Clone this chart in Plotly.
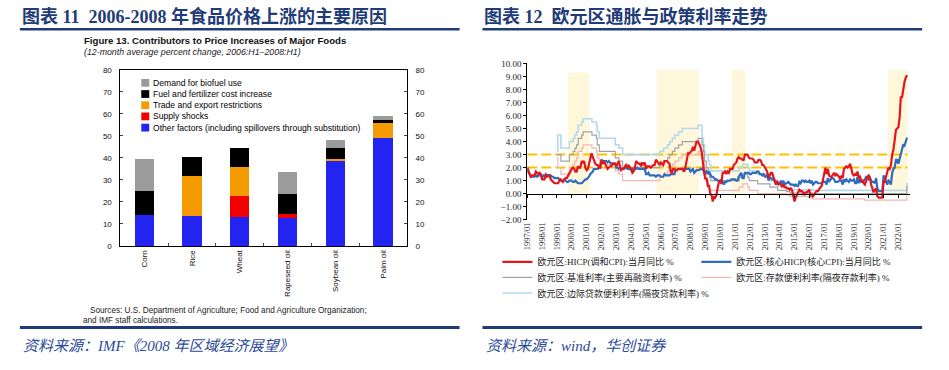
import plotly.graph_objects as go
import pandas as pd

W, H = 949, 370

# ---------------- Left chart data (Figure 13, IMF) ----------------
foods = ["Corn", "Rice", "Wheat", "Rapeseed oil", "Soybean oil", "Palm oil"]
other_factors = [14.2, 13.8, 13.3, 12.7, 38.7, 49.2]
supply_shocks = [0, 0, 9.4, 2.0, 0, 0]
trade_restrictions = [0, 18.2, 13.3, 0, 1.0, 6.9]
fuel_fertilizer = [10.7, 8.3, 8.6, 8.7, 4.9, 1.1]
biofuel_demand = [14.5, 0, 0, 10.4, 3.5, 1.8]
factor_names = [
    "Other factors (including spillovers through substitution)",
    "Supply shocks",
    "Trade and export restrictions",
    "Fuel and fertilizer cost increase",
    "Demand for biofuel use",
]
left_ticks = [0, 10, 20, 30, 40, 50, 60, 70, 80]

# ---------------- Right chart data (euro area, monthly) ----------------
hicp = [
    2.0, 1.7, 1.6, 1.3, 1.4, 1.4, 1.4, 1.7, 1.6, 1.5, 1.6, 1.5,        # 1997
    1.1, 1.1, 1.1, 1.4, 1.3, 1.4, 1.4, 1.1, 1.0, 0.9, 0.8, 0.8,        # 1998
    0.8, 0.8, 1.0, 1.1, 1.0, 0.9, 1.1, 1.2, 1.2, 1.4, 1.5, 1.7,        # 1999
    1.9, 2.0, 1.9, 1.7, 1.7, 2.1, 2.0, 2.0, 2.5, 2.4, 2.5, 2.0,        # 2000
    1.8, 1.9, 2.2, 2.7, 3.1, 2.8, 2.5, 2.3, 2.2, 2.2, 2.0, 2.0,        # 2001
    2.6, 2.3, 2.5, 2.3, 2.0, 1.9, 2.0, 2.1, 2.1, 2.3, 2.3, 2.3,        # 2002
    2.1, 2.4, 2.5, 2.1, 1.8, 1.9, 1.9, 2.1, 2.2, 2.0, 2.2, 2.0,        # 2003
    1.9, 1.6, 1.7, 2.0, 2.5, 2.4, 2.3, 2.3, 2.1, 2.4, 2.2, 2.4,        # 2004
    1.9, 2.1, 2.1, 2.1, 2.0, 2.1, 2.2, 2.2, 2.6, 2.5, 2.3, 2.2,        # 2005
    2.4, 2.3, 2.2, 2.5, 2.5, 2.5, 2.4, 2.3, 1.7, 1.6, 1.9, 1.9,        # 2006
    1.8, 1.8, 1.9, 1.9, 1.9, 1.9, 1.8, 1.7, 2.1, 2.6, 3.1, 3.1,        # 2007
    3.2, 3.3, 3.6, 3.3, 3.7, 4.0, 4.0, 3.8, 3.6, 3.2, 2.1, 1.6,        # 2008
    1.1, 1.2, 0.6, 0.6, 0.0, -0.1, -0.6, -0.2, -0.3, -0.1, 0.5, 0.9,   # 2009
    1.0, 0.8, 1.6, 1.6, 1.7, 1.5, 1.7, 1.6, 1.9, 1.9, 1.9, 2.2,        # 2010
    2.3, 2.4, 2.7, 2.8, 2.7, 2.7, 2.6, 2.6, 3.0, 3.0, 3.0, 2.8,        # 2011
    2.7, 2.7, 2.7, 2.6, 2.4, 2.4, 2.4, 2.6, 2.6, 2.5, 2.2, 2.2,        # 2012
    2.0, 1.8, 1.7, 1.2, 1.4, 1.6, 1.6, 1.3, 1.1, 0.7, 0.9, 0.8,        # 2013
    0.8, 0.7, 0.5, 0.7, 0.5, 0.5, 0.4, 0.4, 0.3, 0.4, 0.3, -0.2,       # 2014
    -0.6, -0.3, -0.1, 0.0, 0.3, 0.2, 0.2, 0.1, -0.1, 0.1, 0.1, 0.2,    # 2015
    0.3, -0.2, 0.0, -0.2, -0.1, 0.1, 0.2, 0.2, 0.4, 0.5, 0.6, 1.1,     # 2016
    1.7, 2.0, 1.5, 1.9, 1.4, 1.3, 1.3, 1.5, 1.6, 1.4, 1.5, 1.4,        # 2017
    1.3, 1.1, 1.4, 1.2, 1.9, 2.0, 2.1, 2.0, 2.1, 2.3, 1.9, 1.5,        # 2018
    1.4, 1.5, 1.4, 1.7, 1.2, 1.3, 1.0, 1.0, 0.8, 0.7, 1.0, 1.3,        # 2019
    1.4, 1.2, 0.7, 0.3, 0.1, 0.3, 0.4, -0.2, -0.3, -0.3, -0.3, -0.3,   # 2020
    0.9, 0.9, 1.3, 1.6, 2.0, 1.9, 2.2, 3.0, 3.4, 4.1, 4.9, 5.0,        # 2021
    5.1, 5.9, 7.4, 7.4, 8.1, 8.6, 8.9, 9.1,                            # 2022
]
core_hicp = [
    1.8, 1.6, 1.5, 1.3, 1.3, 1.3, 1.3, 1.4, 1.3, 1.4, 1.4, 1.4,        # 1997
    1.3, 1.4, 1.3, 1.5, 1.4, 1.4, 1.4, 1.4, 1.3, 1.3, 1.2, 1.2,        # 1998
    1.2, 1.2, 1.1, 1.0, 1.0, 1.0, 1.1, 1.0, 0.9, 0.9, 1.0, 1.0,        # 1999
    1.0, 0.9, 0.9, 1.0, 0.9, 0.8, 0.8, 0.8, 0.8, 0.9, 1.0, 1.1,        # 2000
    1.1, 1.2, 1.3, 1.5, 1.6, 1.7, 1.9, 1.9, 1.9, 1.9, 2.0, 2.0,        # 2001
    2.6, 2.5, 2.5, 2.5, 2.5, 2.4, 2.5, 2.4, 2.3, 2.3, 2.3, 2.3,        # 2002
    2.0, 2.0, 1.9, 2.0, 1.9, 1.9, 1.9, 2.0, 2.0, 1.9, 1.9, 1.9,        # 2003
    1.8, 1.9, 1.8, 1.9, 1.9, 2.0, 1.9, 1.9, 1.9, 1.9, 1.9, 1.9,        # 2004
    1.5, 1.5, 1.6, 1.4, 1.4, 1.4, 1.4, 1.4, 1.3, 1.4, 1.4, 1.4,        # 2005
    1.3, 1.3, 1.3, 1.5, 1.4, 1.4, 1.4, 1.4, 1.5, 1.5, 1.5, 1.5,        # 2006
    1.8, 1.8, 1.9, 1.9, 1.9, 1.9, 1.9, 1.9, 1.9, 1.9, 1.9, 1.9,        # 2007
    1.7, 1.8, 1.9, 1.6, 1.7, 1.8, 1.8, 1.8, 1.9, 1.9, 1.8, 1.8,        # 2008
    1.6, 1.7, 1.5, 1.7, 1.5, 1.3, 1.3, 1.2, 1.1, 1.1, 1.0, 1.0,        # 2009
    0.9, 0.8, 0.9, 0.7, 0.9, 0.9, 1.0, 1.0, 1.0, 1.1, 1.1, 1.1,        # 2010
    1.1, 1.0, 1.0, 1.3, 1.5, 1.6, 1.2, 1.2, 1.6, 1.6, 1.6, 1.6,        # 2011
    1.5, 1.5, 1.6, 1.6, 1.6, 1.6, 1.7, 1.7, 1.5, 1.5, 1.4, 1.5,        # 2012
    1.3, 1.3, 1.5, 1.0, 1.2, 1.2, 1.1, 1.1, 1.0, 0.8, 0.9, 0.7,        # 2013
    0.8, 1.0, 0.7, 1.0, 0.7, 0.8, 0.8, 0.9, 0.8, 0.7, 0.7, 0.7,        # 2014
    0.6, 0.7, 0.6, 0.6, 0.9, 0.8, 1.0, 1.0, 0.9, 1.0, 0.9, 0.9,        # 2015
    1.0, 0.8, 1.0, 0.7, 0.8, 0.9, 0.9, 0.8, 0.8, 0.8, 0.8, 0.9,        # 2016
    0.9, 0.9, 0.7, 1.2, 0.9, 1.1, 1.2, 1.2, 1.1, 0.9, 0.9, 0.9,        # 2017
    1.0, 1.0, 1.0, 0.7, 1.1, 0.9, 1.1, 1.0, 0.9, 1.1, 1.0, 1.0,        # 2018
    1.1, 0.8, 0.8, 1.3, 0.8, 1.1, 0.9, 0.9, 1.0, 1.1, 1.3, 1.3,        # 2019
    1.1, 1.2, 1.0, 0.9, 0.9, 0.8, 1.2, 0.4, 0.2, 0.2, 0.2, 0.2,        # 2020
    1.4, 1.1, 0.9, 0.7, 1.0, 0.9, 0.7, 1.6, 1.9, 2.0, 2.6, 2.6,        # 2021
    2.3, 2.7, 2.9, 3.5, 3.8, 3.7, 4.0, 4.3,                            # 2022
]
months = pd.date_range("1997-01-01", periods=len(hicp), freq="MS")

rate_dates = [
    "1999-01-01", "1999-01-22", "1999-04-09", "1999-11-05", "2000-02-04", "2000-03-17",
    "2000-04-28", "2000-06-09", "2000-09-01", "2000-10-06", "2001-05-11", "2001-08-31",
    "2001-09-18", "2001-11-09", "2002-12-06", "2003-03-07", "2003-06-06", "2005-12-06",
    "2006-03-08", "2006-06-15", "2006-08-09", "2006-10-11", "2006-12-13", "2007-03-14",
    "2007-06-13", "2008-07-09", "2008-10-08", "2008-10-15", "2008-11-12", "2008-12-10",
    "2009-01-21", "2009-03-11", "2009-04-08", "2009-05-13", "2011-04-13", "2011-07-13",
    "2011-11-09", "2011-12-14", "2012-07-11", "2013-05-08", "2013-11-13", "2014-06-11",
    "2014-09-10", "2015-12-09", "2016-03-16", "2019-09-18", "2022-07-27", "2022-08-31",
]
main_refi_rate = [
    3.0, 3.0, 2.5, 3.0, 3.25, 3.5, 3.75, 4.25, 4.5, 4.75, 4.5, 4.25,
    3.75, 3.25, 2.75, 2.5, 2.0, 2.25, 2.5, 2.75, 3.0, 3.25, 3.5, 3.75,
    4.0, 4.25, 3.75, 3.75, 3.25, 2.5, 2.0, 1.5, 1.25, 1.0, 1.25, 1.5,
    1.25, 1.0, 0.75, 0.5, 0.25, 0.15, 0.05, 0.05, 0.0, 0.0, 0.5, 0.5,
]
deposit_rate = [
    2.75, 2.0, 1.5, 2.0, 2.25, 2.5, 2.75, 3.25, 3.5, 3.75, 3.5, 3.25,
    2.75, 2.25, 1.75, 1.5, 1.0, 1.25, 1.5, 1.75, 2.0, 2.25, 2.5, 2.75,
    3.0, 3.25, 2.75, 3.25, 2.75, 2.0, 1.0, 0.5, 0.25, 0.25, 0.5, 0.75,
    0.5, 0.25, 0.0, 0.0, 0.0, -0.1, -0.2, -0.3, -0.4, -0.5, 0.0, 0.0,
]
marginal_lending_rate = [
    3.25, 4.5, 3.5, 4.0, 4.25, 4.5, 4.75, 5.25, 5.5, 5.75, 5.5, 5.25,
    4.75, 4.25, 3.75, 3.5, 3.0, 3.25, 3.5, 3.75, 4.0, 4.25, 4.5, 4.75,
    5.0, 5.25, 4.75, 4.25, 3.75, 3.0, 3.0, 2.5, 2.25, 1.75, 2.0, 2.25,
    2.0, 1.75, 1.5, 1.0, 0.75, 0.4, 0.3, 0.3, 0.25, 0.25, 0.75, 0.75,
]
series_names = [
    "欧元区:HICP(调和CPI):当月同比 %",
    "欧元区:核心HICP(核心CPI):当月同比 %",
    "欧元区:基准利率(主要再融资利率) %",
    "欧元区:存款便利利率(隔夜存款利率) %",
    "欧元区:边际贷款便利利率(隔夜贷款利率) %",
]
shade_starts = ["1999-10-01", "2005-09-20", "2010-10-15", "2021-04-20"]
shade_ends = ["2001-03-10", "2008-07-25", "2011-09-12", "2022-08-15"]
shade_tops = [9.3, 9.5, 9.5, 9.5]
reference_levels = [3.0, 2.0]
right_x_range = ["1997-01-01", "2022-10-18"]
right_y_range = [-2, 10]

# ---------------- helpers ----------------
def px(x):
    return x / W

def py(y):
    return 1 - y / H

SANS = "Liberation Sans, Arial, sans-serif"
SERIF_CJK = "Liberation Serif, Noto Sans CJK SC, serif"
NAVY = "#1F3C78"

fig = go.Figure()

# ---- left: stacked bars ----
bar_series = [other_factors, supply_shocks, trade_restrictions, fuel_fertilizer, biofuel_demand]
bar_colors = ["#2424F2", "#F20000", "#F59B00", "#000000", "#9B9B9B"]
for name, vals, col in zip(factor_names, bar_series, bar_colors):
    fig.add_trace(go.Bar(
        x=foods, y=vals, name=name, width=0.4,
        marker=dict(color=col, line=dict(width=0)),
        xaxis="x", yaxis="y", showlegend=False,
    ))
totals = [sum(v) for v in zip(*bar_series)]
fig.add_trace(go.Scatter(x=foods, y=totals, xaxis="x", yaxis="y2", mode="markers",
                         marker=dict(opacity=0), showlegend=False, hoverinfo="skip"))

# ---- right: lines (one small legend per entry, laid out in two columns) ----
# legend slots: (legend id, text left x px, row centre y px)
legend_slots = {
    0: ("legend2", 535, 264), 1: ("legend3", 735, 264),
    2: ("legend4", 535, 280), 3: ("legend5", 735, 280),
    4: ("legend6", 535, 296),
}
right_styles = [
    (4, marginal_lending_rate, "#B2DAEC", 1.6),
    (3, deposit_rate, "#F2B6B2", 1.2),
    (2, main_refi_rate, "#A3A3A3", 1.2),
]
for idx, vals, col, wdt in right_styles:
    fig.add_trace(go.Scatter(
        x=rate_dates, y=vals, name=series_names[idx], mode="lines",
        line=dict(color=col, width=wdt, shape="hv"),
        xaxis="x3", yaxis="y3", legend=legend_slots[idx][0],
    ))
fig.add_trace(go.Scatter(x=months, y=core_hicp, name=series_names[1], mode="lines",
                         line=dict(color="#2F6CC0", width=2.2),
                         xaxis="x3", yaxis="y3", legend=legend_slots[1][0]))
fig.add_trace(go.Scatter(x=months, y=hicp, name=series_names[0], mode="lines",
                         line=dict(color="#E3171B", width=2.2),
                         xaxis="x3", yaxis="y3", legend=legend_slots[0][0]))
# carrier for the zero-line axis
fig.add_trace(go.Scatter(x=months, y=hicp, xaxis="x4", yaxis="y3", mode="lines",
                         line=dict(width=0), opacity=0, showlegend=False, hoverinfo="skip"))

shapes = []
annotations = []

# shaded periods & reference lines (right chart)
for s, e, t in zip(shade_starts, shade_ends, shade_tops):
    shapes.append(dict(type="rect", xref="x3", yref="y3", x0=s, x1=e, y0=0, y1=t,
                       fillcolor="#FFF7DC", line=dict(width=0), layer="below"))
for lvl in reference_levels:
    shapes.append(dict(type="line", xref="x3", yref="y3", x0=right_x_range[0], x1=shade_ends[-1],
                       y0=lvl, y1=lvl, line=dict(color="#FFC000", width=2, dash="10px,4px"),
                       layer="below"))

# header / footer rules
for x0, x1 in [(15, 457), (480, 922)]:
    shapes.append(dict(type="line", xref="paper", yref="paper", x0=px(x0), x1=px(x1),
                       y0=py(25), y1=py(25), line=dict(color=NAVY, width=2.5)))
    shapes.append(dict(type="line", xref="paper", yref="paper", x0=px(x0), x1=px(x1),
                       y0=py(331.5), y1=py(331.5), line=dict(color=NAVY, width=3)))

# left manual legend (top to bottom)
legend_rows = list(zip(factor_names[::-1], bar_colors[::-1]))
for i, (name, col) in enumerate(legend_rows):
    yc = 80 + i * 11.5
    shapes.append(dict(type="rect", xref="paper", yref="paper", x0=px(137), x1=px(145),
                       y0=py(yc + 4), y1=py(yc - 4), fillcolor=col, line=dict(width=0)))
    annotations.append(dict(xref="paper", yref="paper", x=px(146.5), y=py(yc), text=name,
                            showarrow=False, xanchor="left", yanchor="middle",
                            font=dict(family=SANS, size=8.6, color="#000")))

# texts
annotations += [
    dict(x=px(15), y=py(12), text="<b>图表 11  2006-2008 年食品价格上涨的主要原因</b>",
         font=dict(family=SERIF_CJK, size=18, color=NAVY)),
    dict(x=px(480), y=py(12), text="<b>图表 12  欧元区通胀与政策利率走势</b>",
         font=dict(family=SERIF_CJK, size=18, color=NAVY)),
    dict(x=px(77), y=py(36), text="<b>Figure 13. Contributors to Price Increases of Major Foods</b>",
         font=dict(family=SANS, size=9.6, color="#111")),
    dict(x=px(77), y=py(48), text="<i>(12-month average percent change, 2006:H1–2008:H1)</i>",
         font=dict(family=SANS, size=8.8, color="#222")),
    dict(x=px(83), y=py(314), text="Sources: U.S. Department of Agriculture; Food and Agriculture Organization;",
         font=dict(family=SANS, size=8.2, color="#222")),
    dict(x=px(76), y=py(324), text="and IMF staff calculations.",
         font=dict(family=SANS, size=8.2, color="#222")),
    dict(x=px(16), y=py(350), text="<i>资料来源：IMF《2008 年区域经济展望》</i>",
         font=dict(family=SERIF_CJK, size=15, color="#2B4A9A")),
    dict(x=px(482), y=py(350), text="<i>资料来源：wind，华创证券</i>",
         font=dict(family=SERIF_CJK, size=15, color="#2B4A9A")),
]
for a in annotations:
    a.setdefault("xref", "paper")
    a.setdefault("yref", "paper")
    a.setdefault("showarrow", False)
    a.setdefault("xanchor", "left")
    a.setdefault("yanchor", "middle")

left_dom_x = [px(116), px(404)]
left_dom_y = [py(247.7), py(66.7)]
right_dom_x = [px(525), px(910)]
right_dom_y = [py(220.7), py(60)]
zero_pos = right_dom_y[0] + (0 - right_y_range[0]) / (right_y_range[1] - right_y_range[0]) * (right_dom_y[1] - right_dom_y[0])

axis_font = dict(family=SANS, size=8, color="#111")
serif_font = dict(family="Liberation Serif, serif", size=8.5, color="#222")

legend_layouts = {}
for idx, (lid, text_x, row_y) in legend_slots.items():
    legend_layouts[lid] = dict(
        orientation="v", x=px(text_x - 40), y=py(row_y), xanchor="left", yanchor="middle",
        bgcolor="rgba(0,0,0,0)", borderwidth=0, itemwidth=30,
        font=dict(family=SERIF_CJK, size=9, color="#222"),
    )

fig.update_layout(
    width=W, height=H, margin=dict(l=0, r=0, t=0, b=0),
    paper_bgcolor="white", plot_bgcolor="white",
    barmode="stack", showlegend=True,
    shapes=shapes, annotations=annotations,
    xaxis=dict(domain=left_dom_x, anchor="y", type="category", showline=True, linecolor="#000",
               linewidth=1, mirror=True, ticks="inside", ticklen=3, tickson="boundaries",
               tickangle=-90, tickfont=axis_font, showgrid=False, fixedrange=True),
    yaxis=dict(domain=left_dom_y, anchor="x", range=[0, 80], tickvals=left_ticks,
               ticks="inside", ticklen=3, showline=True, linecolor="#000", linewidth=1,
               showgrid=False, zeroline=False, tickfont=axis_font, ticklabelstandoff=6),
    yaxis2=dict(overlaying="y", side="right", anchor="x", range=[0, 80], tickvals=left_ticks,
                ticks="inside", ticklen=3, showline=True, linecolor="#000", linewidth=1,
                showgrid=False, zeroline=False, tickfont=axis_font, ticklabelstandoff=6),
    xaxis3=dict(domain=right_dom_x, anchor="y3", type="date", range=right_x_range,
                tick0="1997-01-01", dtick="M12", tickformat="%Y/%m", tickangle=-90,
                ticks="", showline=False, showgrid=False, zeroline=False, tickfont=serif_font),
    xaxis4=dict(overlaying="x3", anchor="free", position=zero_pos, type="date", range=right_x_range,
                tick0="1997-01-01", dtick="M12", ticks="outside", ticklen=3, tickcolor="#000",
                showticklabels=False, showline=True, linecolor="#000", linewidth=1, showgrid=False),
    yaxis3=dict(domain=right_dom_y, anchor="x3", range=right_y_range, dtick=1, tickformat=".2f",
                ticks="outside", ticklen=3, tickcolor="#000", showline=True, linecolor="#000",
                linewidth=1, showgrid=False, zeroline=False,
                tickfont=dict(family="Liberation Serif, serif", size=9, color="#222")),
    **legend_layouts,
)

fig.write_html(
    "out.html",
    config={"displayModeBar": False},
    post_script="document.body.style.margin='0px';document.body.style.overflow='hidden';",
)
